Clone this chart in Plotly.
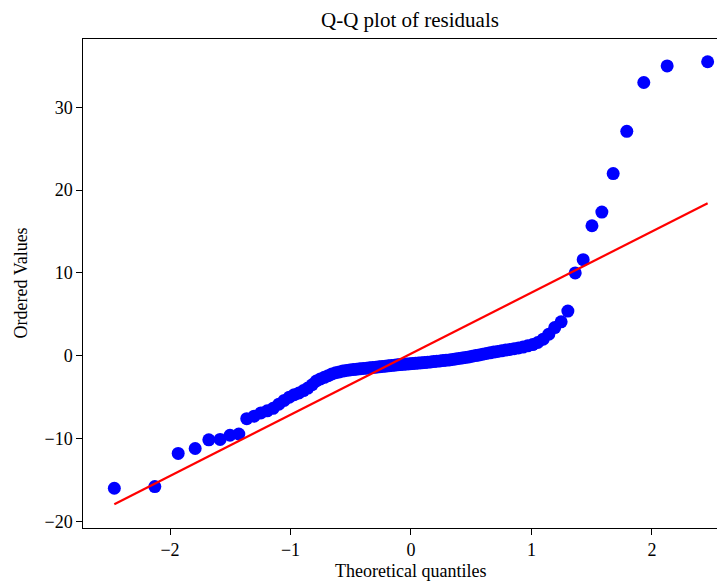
import plotly.graph_objects as go

# Theoretical quantiles (x) (100 points)
theoretical_quantiles = [
    -2.462, -2.126, -1.932, -1.791, -1.678, -1.584, -1.502, -1.429, -1.363, -1.302,
    -1.246, -1.193, -1.144, -1.097, -1.052, -1.010, -0.969, -0.930, -0.892, -0.856,
    -0.820, -0.786, -0.752, -0.719, -0.687, -0.656, -0.625, -0.595, -0.566, -0.537,
    -0.508, -0.480, -0.452, -0.425, -0.397, -0.370, -0.344, -0.318, -0.291, -0.265,
    -0.240, -0.214, -0.188, -0.163, -0.138, -0.113, -0.088, -0.062, -0.037, -0.012,
    0.012, 0.037, 0.062, 0.088, 0.113, 0.138, 0.163, 0.188, 0.214, 0.240,
    0.265, 0.291, 0.318, 0.344, 0.370, 0.397, 0.425, 0.452, 0.480, 0.508,
    0.537, 0.566, 0.595, 0.625, 0.656, 0.687, 0.719, 0.752, 0.786, 0.820,
    0.856, 0.892, 0.930, 0.969, 1.010, 1.052, 1.097, 1.144, 1.193, 1.246,
    1.302, 1.363, 1.429, 1.502, 1.584, 1.678, 1.791, 1.932, 2.126, 2.462,
]

# Ordered residual values (y)
ordered_values = [
    -16.0, -15.8, -11.8, -11.2, -10.15, -10.1, -9.6, -9.45, -7.6, -7.3,
    -6.9, -6.65, -6.35, -5.85, -5.4, -5.0, -4.7, -4.5, -4.2, -3.9,
    -3.5, -3.05, -2.8, -2.6, -2.4, -2.2, -2.05, -1.95, -1.85, -1.78,
    -1.72, -1.67, -1.62, -1.58, -1.54, -1.5, -1.46, -1.42, -1.38, -1.34,
    -1.3, -1.26, -1.22, -1.18, -1.14, -1.1, -1.07, -1.04, -1.01, -0.98,
    -0.95, -0.92, -0.88, -0.85, -0.82, -0.78, -0.75, -0.7, -0.66, -0.62,
    -0.58, -0.54, -0.5, -0.45, -0.38, -0.32, -0.27, -0.2, -0.14, -0.06,
    0.02, 0.1, 0.18, 0.27, 0.35, 0.45, 0.52, 0.6, 0.68, 0.76,
    0.86, 0.95, 1.05, 1.2, 1.35, 1.6, 2.0, 2.6, 3.4, 4.1,
    5.4, 10.0, 11.6, 15.7, 17.35, 22.0, 27.1, 33.0, 35.0, 35.5,
]

# Fit line parameters
fit_slope = 7.38
fit_intercept = 0.25

x_ticks = [-2, -1, 0, 1, 2]
y_ticks = [-20, -10, 0, 10, 20, 30]

line_x = [theoretical_quantiles[0], theoretical_quantiles[-1]]
line_y = [fit_intercept + fit_slope * v for v in line_x]

FONT = "Liberation Serif, Times New Roman, serif"
W, H = 717, 574          # page adds an 8px body margin
L, T = 75, 31
PW, PH = W - L, 520 - T

fig = go.Figure()
fig.add_trace(go.Scatter(
    x=theoretical_quantiles, y=ordered_values, mode="markers",
    marker=dict(color="#0000ff", size=13, line=dict(width=0)),
    showlegend=False, hoverinfo="skip",
))
fig.add_trace(go.Scatter(
    x=line_x, y=line_y, mode="lines",
    line=dict(color="#ff0000", width=2.2),
    showlegend=False, hoverinfo="skip",
))

fig.update_layout(
    width=W, height=H,
    margin=dict(l=L, r=0, t=T, b=H - 520),
    paper_bgcolor="white", plot_bgcolor="white",
    font=dict(family=FONT, size=18, color="black"),
    title=dict(text="Q-Q plot of residuals", x=402 / W, xref="container", xanchor="center",
               y=1 - 12 / H, yref="container", yanchor="middle",
               font=dict(family=FONT, size=21, color="black")),
    xaxis=dict(range=[-2.722, 2.606], tickvals=x_ticks, ticks="outside", ticklen=5.6,
               tickwidth=1.2, tickcolor="black", showline=True, linecolor="black",
               linewidth=1.3, mirror=True, showgrid=False, zeroline=False,
               tickfont=dict(family=FONT, size=18, color="black")),
    yaxis=dict(range=[-20.8, 38.25], tickvals=y_ticks, ticks="outside", ticklen=5.6,
               tickwidth=1.2, tickcolor="black", showline=True, linecolor="black",
               linewidth=1.3, mirror=False, showgrid=False, zeroline=False,
               tickfont=dict(family=FONT, size=18, color="black")),
    annotations=[
        dict(text="Theoretical quantiles", xref="paper", yref="paper",
             x=(402 - L) / PW, y=-(563 - 520) / PH, xanchor="center", yanchor="middle",
             showarrow=False, font=dict(family=FONT, size=18, color="black")),
        dict(text="Ordered Values", xref="paper", yref="paper",
             x=(12 - L) / PW, y=0.5, xanchor="center", yanchor="middle", textangle=-90,
             showarrow=False, font=dict(family=FONT, size=18, color="black")),
    ],
)

fig.write_html("out.html")
